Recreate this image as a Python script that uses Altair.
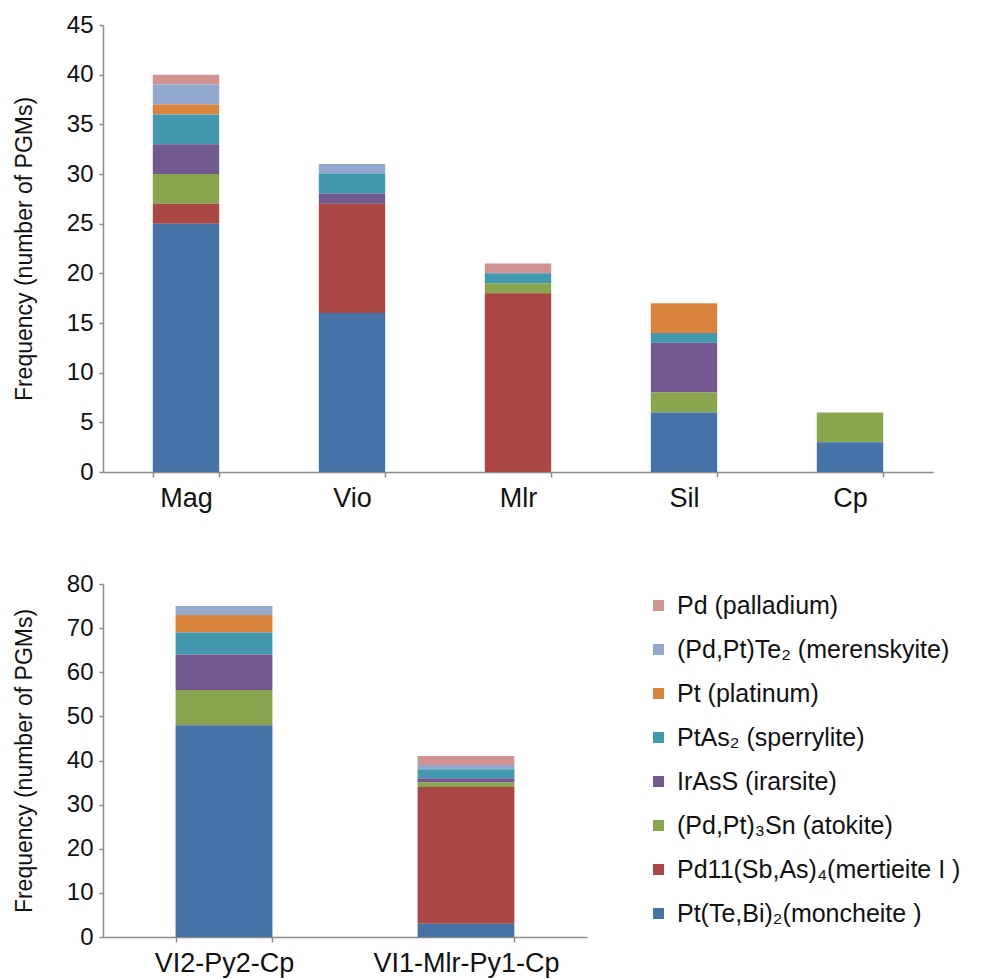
import altair as alt
import pandas as pd

# Legend order (top to bottom)
minerals = [
    "Pd (palladium)",
    "(Pd,Pt)Te₂ (merenskyite)",
    "Pt (platinum)",
    "PtAs₂ (sperrylite)",
    "IrAsS (irarsite)",
    "(Pd,Pt)₃Sn (atokite)",
    "Pd11(Sb,As)₄(mertieite I )",
    "Pt(Te,Bi)₂(moncheite )",
]
colors = ["#D19392", "#93A9CF", "#DB843D", "#4198AF",
          "#71588F", "#89A54E", "#AA4643", "#4572A7"]

# Top panel (host phase)
categories_top = ["Mag", "Vio", "Mlr", "Sil", "Cp"]
palladium_top = [1, 0, 1, 0, 0]
merenskyite_top = [2, 1, 0, 0, 0]
platinum_top = [1, 0, 0, 3, 0]
sperrylite_top = [3, 2, 1, 1, 0]
irarsite_top = [3, 1, 0, 5, 0]
atokite_top = [3, 0, 1, 2, 3]
mertieite_top = [2, 11, 18, 0, 0]
moncheite_top = [25, 16, 0, 6, 3]

# Bottom panel (assemblage)
categories_bottom = ["VI2-Py2-Cp", "VI1-Mlr-Py1-Cp"]
palladium_bot = [0, 2]
merenskyite_bot = [2, 1]
platinum_bot = [4, 0]
sperrylite_bot = [5, 2]
irarsite_bot = [8, 1]
atokite_bot = [8, 1]
mertieite_bot = [0, 31]
moncheite_bot = [48, 3]

series_top = [palladium_top, merenskyite_top, platinum_top, sperrylite_top,
              irarsite_top, atokite_top, mertieite_top, moncheite_top]
series_bot = [palladium_bot, merenskyite_bot, platinum_bot, sperrylite_bot,
              irarsite_bot, atokite_bot, mertieite_bot, moncheite_bot]


def build(cats, series):
    rows = []
    n = len(minerals)
    for i, (m, vals) in enumerate(zip(minerals, series)):
        for c, v in zip(cats, vals):
            if v > 0:
                rows.append({"cat": c, "mineral": m, "count": v, "rank": n - 1 - i})
    return pd.DataFrame(rows)


df_top = build(categories_top, series_top)
df_bot = build(categories_bottom, series_bot)

FONT = "Liberation Sans"
GRAY = "#8c8c8c"

color_scale = alt.Scale(domain=minerals, range=colors)

xaxis = dict(title=None, labelAngle=0, labelFontSize=27, labelColor="#111",
             labelFont=FONT, tickBand="extent", tickSize=5, tickColor=GRAY,
             domainColor=GRAY, domainWidth=1.5, tickWidth=1.5, labelPadding=8,
             labelLimit=400)


def yaxis(values, title):
    return alt.Axis(values=values, title=title, titleFont=FONT, titleFontSize=23,
                    titleFontWeight="normal", titleColor="#111", titlePadding=30,
                    labelFont=FONT, labelFontSize=24, labelColor="#111",
                    tickSize=4, tickColor=GRAY, tickWidth=1.5, domainColor=GRAY,
                    domainWidth=1.5, grid=False, labelPadding=6)


top = alt.Chart(df_top).mark_bar().encode(
    x=alt.X("cat:N", sort=categories_top,
            scale=alt.Scale(paddingInner=0.6, paddingOuter=0.3),
            axis=alt.Axis(**xaxis)),
    y=alt.Y("count:Q", stack="zero",
            scale=alt.Scale(domain=[0, 45], nice=False),
            axis=yaxis(list(range(0, 46, 5)), "Frequency (number of PGMs)")),
    color=alt.Color("mineral:N", scale=color_scale, legend=None),
    order=alt.Order("rank:Q", sort="ascending"),
).properties(width=830, height=447)

bottom = alt.Chart(df_bot).mark_bar().encode(
    x=alt.X("cat:N", sort=categories_bottom,
            scale=alt.Scale(paddingInner=0.6, paddingOuter=0.3),
            axis=alt.Axis(**xaxis)),
    y=alt.Y("count:Q", stack="zero",
            scale=alt.Scale(domain=[0, 80], nice=False),
            axis=yaxis(list(range(0, 81, 10)), "Frequency (number of PGMs)")),
    color=alt.Color("mineral:N", scale=color_scale,
                    legend=alt.Legend(title=None, orient="none", legendX=543, legendY=9,
                                      symbolType="square", symbolSize=121,
                                      symbolStrokeWidth=0, symbolOpacity=1,
                                      labelFont=FONT, labelFontSize=25, labelColor="#111",
                                      labelOffset=6, rowPadding=18, labelLimit=400)),
    order=alt.Order("rank:Q", sort="ascending"),
).properties(width=484, height=353)

chart = alt.vconcat(top, bottom, spacing=61).resolve_scale(
    color="independent", x="independent", y="independent"
).configure(font=FONT).configure_view(stroke=None)

chart.save("out.html", embed_options={"renderer": "svg", "actions": False})
